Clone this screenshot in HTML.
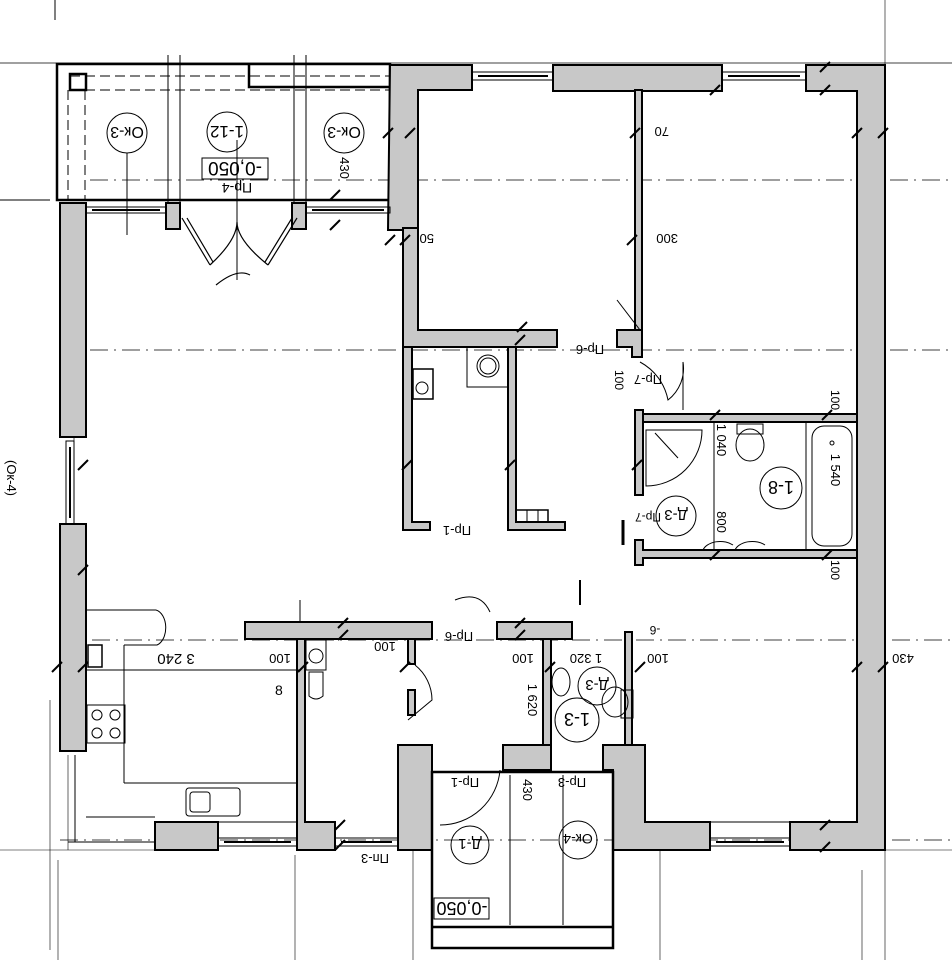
<!DOCTYPE html>
<html><head><meta charset="utf-8"><style>
html,body{margin:0;padding:0;background:#fff;width:952px;height:960px;overflow:hidden}
text{font-family:"Liberation Sans",sans-serif;fill:#000}
</style></head><body>
<svg width="952" height="960" viewBox="0 0 952 960" xmlns="http://www.w3.org/2000/svg">
<g stroke="#000" fill="none" stroke-width="1">
<line x1="0" y1="63" x2="952" y2="63" stroke-width="0.8"/>
<line x1="0" y1="200" x2="50" y2="200"/>
<line x1="55" y1="0" x2="55" y2="20"/>
<line x1="885" y1="0" x2="885" y2="960" stroke-width="0.6"/>
<line x1="865" y1="850" x2="952" y2="850" stroke-width="0.6"/>
<line x1="0" y1="850" x2="160" y2="850" stroke-width="0.6"/>
<line x1="58" y1="860" x2="58" y2="960" stroke-width="0.6"/>
<line x1="295" y1="855" x2="295" y2="960" stroke-width="0.6"/>
<line x1="413" y1="850" x2="413" y2="960" stroke-width="0.6"/>
<line x1="660" y1="850" x2="660" y2="960" stroke-width="0.6"/>
<line x1="862" y1="870" x2="862" y2="960" stroke-width="0.6"/>
<line x1="50" y1="700" x2="50" y2="950" stroke-width="0.6"/>
<line x1="68" y1="755" x2="68" y2="850" stroke-width="0.6"/>
<line x1="75" y1="755" x2="75" y2="842"/>
<line x1="68" y1="842" x2="155" y2="842"/>
</g>
<g stroke="#000" stroke-width="0.7" stroke-dasharray="18,6,2,6" fill="none">
<line x1="90" y1="180" x2="952" y2="180"/>
<line x1="90" y1="350" x2="952" y2="350"/>
<line x1="60" y1="640" x2="952" y2="640"/>
<line x1="60" y1="840" x2="952" y2="840"/>
<line x1="872" y1="70" x2="872" y2="840"/>
<line x1="74" y1="210" x2="74" y2="745"/>
</g>

<g stroke="#000" fill="none">
<rect x="57" y="64" width="333" height="136" stroke-width="2.5"/>
<path d="M249 64 V87 H390" stroke-width="2.5"/>
<line x1="70" y1="76" x2="390" y2="76" stroke-dasharray="10,5"/>
<line x1="70" y1="90" x2="390" y2="90" stroke-dasharray="10,5"/>
<rect x="70" y="74" width="16" height="16" stroke-width="2.5"/>
<line x1="68" y1="90" x2="68" y2="200" stroke-dasharray="10,5"/>
<line x1="85" y1="90" x2="85" y2="200" stroke-dasharray="10,5"/>
<line x1="168" y1="55" x2="168" y2="205"/><line x1="180" y1="55" x2="180" y2="205"/>
<line x1="294" y1="55" x2="294" y2="205"/><line x1="306" y1="55" x2="306" y2="205"/>
<circle cx="127" cy="133" r="20"/><circle cx="227" cy="132" r="20"/><circle cx="344" cy="133" r="20"/>
<line x1="127" y1="153" x2="127" y2="235"/>
<line x1="237" y1="140" x2="237" y2="280"/>
<rect x="202" y="158" width="66" height="21"/>
</g>
<g transform="rotate(180 127 133)"><text x="127" y="139" font-size="16" text-anchor="middle">Ок-3</text></g>
<g transform="rotate(180 227 132)"><text x="227" y="138" font-size="17" text-anchor="middle">1-12</text></g>
<g transform="rotate(180 344 133)"><text x="344" y="139" font-size="16" text-anchor="middle">Ок-3</text></g>
<g transform="rotate(180 235 169)"><text x="235" y="176" font-size="19" text-anchor="middle">-0,050</text></g>
<g transform="rotate(180 237 188)"><text x="237" y="193" font-size="14" text-anchor="middle">Пр-4</text></g>
<g transform="rotate(90 345 168)"><text x="345" y="173" font-size="13" text-anchor="middle">430</text></g>

<g fill="#c8c8c8" stroke="#000" stroke-width="2">
<rect x="60" y="203" width="26" height="234"/>
<rect x="60" y="524" width="26" height="227"/>
<rect x="166" y="203" width="14" height="26"/>
<rect x="292" y="203" width="14" height="26"/>
<path d="M390 65 H472 V90 H418 V228 H403 V230 H388 Z"/>
<rect x="553" y="65" width="169" height="26"/>
<path d="M806 65 H885 V850 H790 V822 H857 V91 H806 Z"/>
<path d="M403 228 H418 V330 H557 V347 H403 Z"/>
<rect x="635" y="90" width="7" height="240"/>
<path d="M617 330 H642 V357 H632 V347 H617 Z"/>
<rect x="640" y="414" width="217" height="8"/>
<rect x="635" y="410" width="8" height="85"/>
<path d="M635 540 H643 V550 H857 V558 H643 V565 H635 Z"/>
<path d="M403 347 H412 V522 H430 V530 H403 Z"/>
<path d="M508 347 H516 V522 H565 V530 H508 Z"/>
<rect x="245" y="622" width="187" height="17"/>
<rect x="497" y="622" width="75" height="17"/>
<path d="M297 639 H305 V822 H335 V850 H297 Z"/>
<rect x="408" y="639" width="7" height="25"/>
<rect x="408" y="690" width="7" height="25"/>
<path d="M398 745 H432 V850 H398 Z"/>
<rect x="543" y="639" width="8" height="106"/>
<rect x="503" y="745" width="48" height="25"/>
<rect x="625" y="632" width="7" height="113"/>
<path d="M603 745 H645 V822 H710 V850 H613 V770 H603 Z"/>
<rect x="155" y="822" width="63" height="28"/>
</g>
<g stroke="#000" fill="none" stroke-width="1">
<rect x="472" y="72" width="81" height="8"/><line x1="478" y1="76" x2="548" y2="76" stroke-width="2"/>
<rect x="722" y="72" width="84" height="8"/><line x1="728" y1="76" x2="800" y2="76" stroke-width="2"/>
<rect x="86" y="207" width="80" height="6"/><line x1="92" y1="210" x2="160" y2="210" stroke-width="2"/>
<rect x="306" y="207" width="84" height="6"/><line x1="312" y1="210" x2="384" y2="210" stroke-width="2"/>
<rect x="66" y="441" width="8" height="83"/><line x1="70" y1="447" x2="70" y2="518" stroke-width="2"/>
<rect x="218" y="838" width="79" height="8"/><line x1="224" y1="842" x2="291" y2="842" stroke-width="2"/>
<rect x="335" y="838" width="63" height="8"/><line x1="341" y1="842" x2="392" y2="842" stroke-width="2"/>
<rect x="710" y="838" width="80" height="8"/><line x1="716" y1="842" x2="784" y2="842" stroke-width="2"/>
<line x1="218" y1="822" x2="297" y2="822"/><line x1="710" y1="822" x2="790" y2="822"/>
</g>
<g stroke="#000" fill="none" stroke-width="2.5">
<rect x="432" y="772" width="181" height="176"/>
<line x1="432" y1="927" x2="613" y2="927"/>
</g>
<g stroke="#000" fill="none" stroke-width="1">
<rect x="434" y="898" width="55" height="21"/>
<circle cx="470" cy="845" r="19"/><circle cx="578" cy="840" r="19"/>
<line x1="510" y1="775" x2="510" y2="925"/><line x1="563" y1="775" x2="563" y2="925"/>
<path d="M440 825 A60 60 0 0 0 500 770"/>
</g>
<g transform="rotate(180 470 845)"><text x="470" y="851" font-size="15" text-anchor="middle">Д-1</text></g>
<g transform="rotate(180 578 840)"><text x="578" y="846" font-size="14" text-anchor="middle">Ок-4</text></g>
<g transform="rotate(180 462 909)"><text x="462" y="916" font-size="18" text-anchor="middle">-0,050</text></g>
<g transform="rotate(180 465 783)"><text x="465" y="788" font-size="13" text-anchor="middle">Пр-1</text></g>
<g transform="rotate(180 572 783)"><text x="572" y="788" font-size="13" text-anchor="middle">Пр-3</text></g>
<g transform="rotate(90 528 790)"><text x="528" y="795" font-size="13" text-anchor="middle">430</text></g>

<g stroke="#000" fill="none" stroke-width="1.2">
<path d="M182 218 L210 265 M297 218 L268 265"/>
<path d="M187 218 L213 262 M292 218 L265 262"/>
<path d="M210 265 Q237 240 237 222 Q237 240 268 265"/>
<path d="M216 285 Q237 268 250 275"/>
</g>
<g stroke="#000" fill="none" stroke-width="1">
<path d="M617 300 L640 330"/>
<path d="M640 362 A55 55 0 0 1 668 400 A40 40 0 0 0 683 362"/>
<line x1="683" y1="362" x2="683" y2="410"/>
<path d="M415 665 A45 45 0 0 1 432 700 L408 720"/>
<path d="M455 600 Q480 590 490 612"/>
<rect x="467" y="347" width="41" height="40"/>
<circle cx="488" cy="366" r="11"/><circle cx="488" cy="366" r="8"/>
<rect x="413" y="369" width="20" height="30" stroke-width="1.5"/>
<circle cx="422" cy="388" r="6"/>
<rect x="516" y="510" width="32" height="12" stroke-width="1.5"/>
<line x1="527" y1="510" x2="527" y2="522"/><line x1="538" y1="510" x2="538" y2="522"/>
<path d="M646 430 H702 A56 56 0 0 1 646 486 Z"/>
<line x1="655" y1="433" x2="678" y2="458"/>
<line x1="714" y1="422" x2="714" y2="550"/>
<line x1="806" y1="422" x2="806" y2="550"/>
<rect x="812" y="426" width="40" height="120" rx="12"/>
<circle cx="832" cy="443" r="2"/>
<rect x="737" y="424" width="26" height="10"/>
<ellipse cx="750" cy="445" rx="14" ry="16"/>
<path d="M703 550 A18 12 0 0 1 733 545 M735 550 A18 12 0 0 1 765 545"/>
<circle cx="781" cy="488" r="21"/>
<circle cx="676" cy="516" r="20"/>
<rect x="306" y="640" width="20" height="30"/>
<circle cx="316" cy="656" r="7"/>
<path d="M309 672 H323 V696 Q316 702 309 696 Z"/>
<ellipse cx="561" cy="682" rx="9" ry="14"/>
<circle cx="597" cy="686" r="19"/>
<circle cx="577" cy="720" r="22"/>
<ellipse cx="615" cy="702" rx="13" ry="15"/>
<rect x="621" y="690" width="12" height="28"/>
<line x1="551" y1="745" x2="551" y2="770"/>
<line x1="86" y1="610" x2="156" y2="610"/>
<path d="M156 610 A12 18 0 0 1 157 645 L124 645"/>
<line x1="124" y1="645" x2="124" y2="783"/>
<line x1="124" y1="783" x2="297" y2="783"/>
<line x1="86" y1="817" x2="155" y2="817"/>
<rect x="87" y="705" width="38" height="38"/>
<circle cx="97" cy="715" r="5"/><circle cx="115" cy="715" r="5"/><circle cx="97" cy="733" r="5"/><circle cx="115" cy="733" r="5"/>
<rect x="186" y="788" width="54" height="28" rx="3"/>
<rect x="190" y="792" width="20" height="20" rx="3"/>
<rect x="88" y="645" width="14" height="22" stroke-width="1.5"/>
<line x1="86" y1="670" x2="300" y2="670"/>
<line x1="300" y1="622" x2="300" y2="600"/>
<line x1="623" y1="520" x2="623" y2="545" stroke-width="3"/>
<line x1="580" y1="580" x2="580" y2="605" stroke-width="2"/>
</g>
<g transform="rotate(180 781 488)"><text x="781" y="495" font-size="18" text-anchor="middle">1-8</text></g>
<g transform="rotate(180 676 516)"><text x="676" y="522" font-size="15" text-anchor="middle">Д-3</text></g>
<g transform="rotate(180 597 686)"><text x="597" y="692" font-size="15" text-anchor="middle">Д-3</text></g>
<g transform="rotate(180 577 720)"><text x="577" y="727" font-size="18" text-anchor="middle">1-3</text></g>
<g transform="rotate(180 176 660)"><text x="176" y="666" font-size="15" text-anchor="middle">3 240</text></g>
<g transform="rotate(180 280 660)"><text x="280" y="666" font-size="13" text-anchor="middle">100</text></g>
<g transform="rotate(180 385 648)"><text x="385" y="654" font-size="13" text-anchor="middle">100</text></g>
<g transform="rotate(180 523 660)"><text x="523" y="666" font-size="13" text-anchor="middle">100</text></g>
<g transform="rotate(180 658 660)"><text x="658" y="666" font-size="13" text-anchor="middle">100</text></g>
<g transform="rotate(180 903 660)"><text x="903" y="666" font-size="13" text-anchor="middle">430</text></g>
<g transform="rotate(180 586 660)"><text x="586" y="666" font-size="13" text-anchor="middle">1 320</text></g>
<g transform="rotate(180 459 637)"><text x="459" y="642" font-size="13" text-anchor="middle">Пр-6</text></g>
<g transform="rotate(180 590 350)"><text x="590" y="355" font-size="13" text-anchor="middle">Пр-6</text></g>
<g transform="rotate(180 457 531)"><text x="457" y="536" font-size="13" text-anchor="middle">Пр-1</text></g>
<g transform="rotate(180 655 630)"><text x="655" y="634" font-size="12" text-anchor="middle">-6</text></g>
<g transform="rotate(180 375 860)"><text x="375" y="866" font-size="13" text-anchor="middle">Пп-3</text></g>
<g transform="rotate(180 648 380)"><text x="648" y="385" font-size="13" text-anchor="middle">Пр-7</text></g>
<g transform="rotate(180 648 518)"><text x="648" y="523" font-size="12" text-anchor="middle">Пр-7</text></g>
<g transform="rotate(90 533 700)"><text x="533" y="705" font-size="13" text-anchor="middle">1 620</text></g>
<g transform="rotate(90 722 440)"><text x="722" y="445" font-size="13" text-anchor="middle">1 040</text></g>
<g transform="rotate(90 722 522)"><text x="722" y="527" font-size="13" text-anchor="middle">800</text></g>
<g transform="rotate(90 836 470)"><text x="836" y="475" font-size="13" text-anchor="middle">1 540</text></g>
<g transform="rotate(90 836 400)"><text x="836" y="405" font-size="12" text-anchor="middle">100</text></g>
<g transform="rotate(90 836 570)"><text x="836" y="575" font-size="12" text-anchor="middle">100</text></g>
<g transform="rotate(90 620 380)"><text x="620" y="385" font-size="12" text-anchor="middle">100</text></g>
<g transform="rotate(90 12 478)"><text x="12" y="483" font-size="13" text-anchor="middle">(Ок-4)</text></g>
<text x="654" y="244" font-size="13" transform="rotate(180 666 239)">300</text>
<text x="420" y="244" font-size="13" transform="rotate(180 427 239)">50</text>
<text x="655" y="137" font-size="13" transform="rotate(180 662 132)">70</text>
<text x="275" y="695" font-size="14">8</text>
<g stroke="#000" stroke-width="2">
<path d="M383 138 l10 -10 M405 138 l10 -10 M630 138 l10 -10 M852 138 l10 -10 M878 138 l10 -10 M385 245 l10 -10 M400 245 l10 -10 M627 245 l10 -10 M710 95 l10 -10 M820 95 l10 -10 M820 72 l10 -10 M517 332 l10 -10 M515 345 l10 -10 M402 470 l10 -10 M505 470 l10 -10 M632 470 l10 -10 M710 420 l10 -10 M822 420 l10 -10 M710 560 l10 -10 M822 560 l10 -10 M338 628 l10 -10 M338 640 l10 -10 M298 672 l10 -10 M400 672 l10 -10 M515 628 l10 -10 M515 640 l10 -10 M545 672 l10 -10 M635 672 l10 -10 M852 672 l10 -10 M878 672 l10 -10 M335 830 l10 -10 M335 850 l10 -10 M820 830 l10 -10 M820 852 l10 -10 M52 672 l10 -10 M78 672 l10 -10 M78 575 l10 -10 M78 470 l10 -10 M330 230 l10 -10 M330 200 l10 -10"/>
</g>
</svg>
</body></html>
